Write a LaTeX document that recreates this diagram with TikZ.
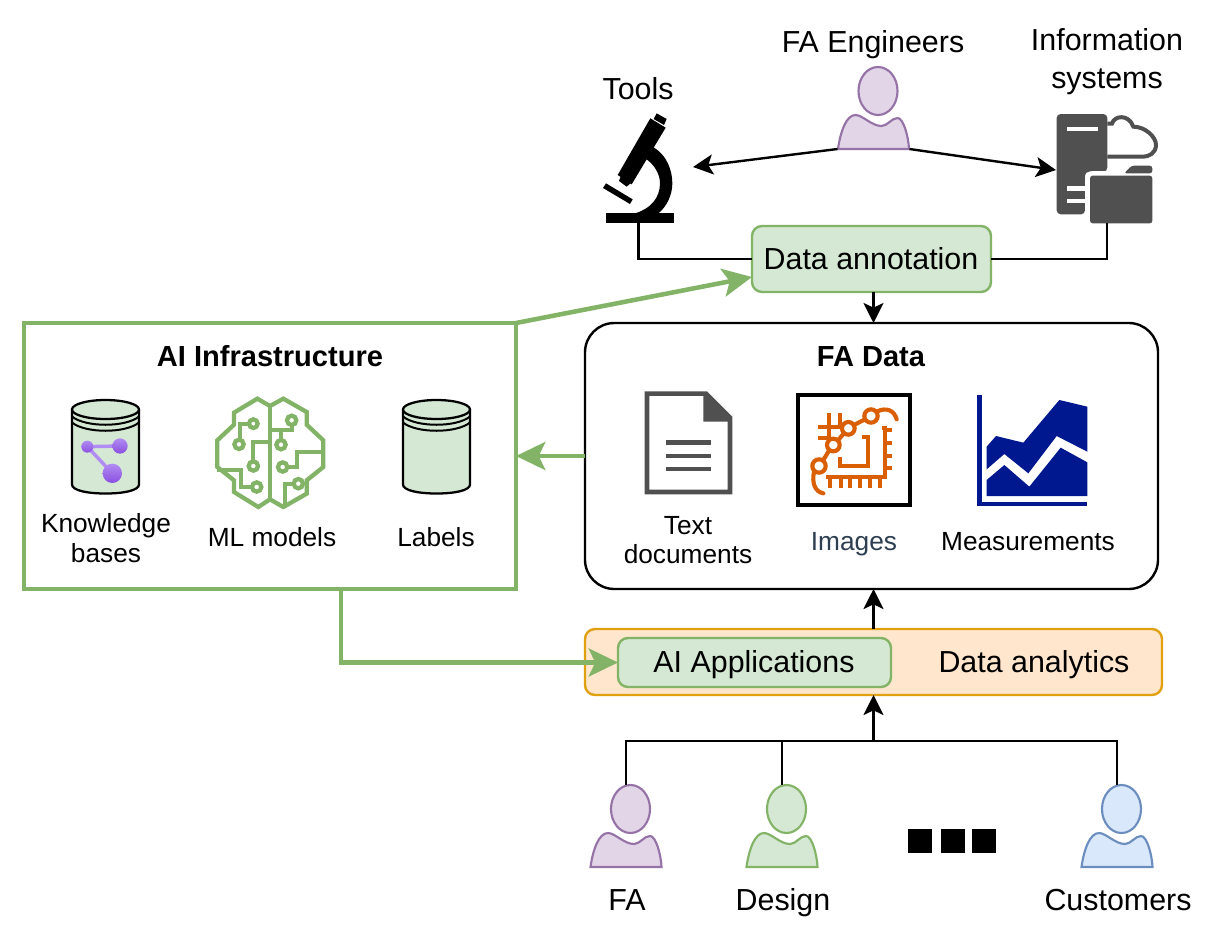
\documentclass[tikz,border=0pt]{standalone}
\usepackage{fontspec}
\setmainfont{Liberation Sans}
\usetikzlibrary{arrows.meta,calc,shadings}
\definecolor{gfill}{HTML}{D5E8D4}
\definecolor{gline}{HTML}{82B366}
\definecolor{ofill}{HTML}{FFE6CC}
\definecolor{oline}{HTML}{E0A010}
\definecolor{pfill}{HTML}{E1D5E7}
\definecolor{pline}{HTML}{9673A6}
\definecolor{bfill}{HTML}{DAE8FC}
\definecolor{bline}{HTML}{6C8EBF}
\definecolor{dgray}{HTML}{505050}
\definecolor{chipo}{HTML}{D95F02}
\definecolor{navy}{HTML}{00188F}
\definecolor{imgtxt}{HTML}{2C3E50}
\definecolor{kgl}{HTML}{B18CF2}
\definecolor{kgd}{HTML}{8A4FE0}
\tikzset{
  px/.style={x=0.75pt,y=-0.75pt},
  txt/.style={inner sep=0pt,outer sep=0pt,text height=21.1pt,text depth=5pt,font=\fontsize{22.8pt}{27pt}\selectfont},
  lbl/.style={inner sep=0pt,outer sep=0pt,text height=18.9pt,text depth=4.4pt,font=\fontsize{19.7pt}{23pt}\selectfont},
  ttl/.style={inner sep=0pt,outer sep=0pt,text height=20.5pt,text depth=4.8pt,font=\fontsize{21.8pt}{26pt}\selectfont\bfseries},
  bx/.style 2 args={rectangle,inner sep=0pt,outer sep=0pt,minimum width=#1*0.75pt,minimum height=#2*0.75pt},
  gbox/.style={draw=gline,fill=gfill,line width=1.8pt,rounded corners=7.5pt},
  blk/.style={draw=black,line width=1.8pt,-{Stealth[length=15pt,width=15pt,inset=3.5pt]}},
  bln/.style={draw=black,line width=1.8pt},
  grn/.style={draw=gline,line width=3.4pt,-{Stealth[length=22pt,width=21pt,inset=5pt]}},
  pb/.style={line width=1.6pt},
  person/.pic={
    \path[pb,pic actions] (-35.5,0) .. controls (-33,-18) and (-27,-34) .. (-18,-34)
      .. controls (-11,-34) and (-2,-23) .. (8,-23)
      .. controls (14,-23) and (18,-31) .. (24,-31)
      .. controls (30,-31) and (35,-12) .. (35.5,0) -- cycle;
    \path[pb,pic actions] (4.5,-58) ellipse [x radius=19.5,y radius=24];
  },
  jar/.pic={
    \path[fill=gfill,draw=black,line width=1.7pt] (-33.5,-37) -- (-33.5,38)
      .. controls (-33.5,44) and (-18,47) .. (0,47)
      .. controls (18,47) and (33.5,44) .. (33.5,38) -- (33.5,-37);
    \path[fill=gfill,draw=black,line width=1.7pt] (0,-37) ellipse [x radius=33.5,y radius=9.5];
    \draw[line width=1.5pt] (-33.5,-30) .. controls (-20,-19) and (20,-19) .. (33.5,-30);
    \draw[line width=1.5pt] (-33.5,-24) .. controls (-20,-13) and (20,-13) .. (33.5,-24);
  },
}
\begin{document}
\begin{tikzpicture}[px]
\useasboundingbox[fill=white] (0,0) rectangle (1214,943);

% ---- main boxes
\node[bx={239}{66},gbox] (annot) at (871.5,259) {};
\node[txt] (annottxt) at (871,259) {Data annotation};
\node[bx={573}{266},draw=black,line width=1.8pt,rounded corners=22pt] (fadata) at (871.5,456) {};
\node[ttl] (fadatat) at (871,356) {FA Data};
\node[bx={492}{266},draw=gline,line width=3.6pt] (infra) at (270,456) {};
\node[ttl] (infrat) at (270,356) {AI Infrastructure};
\node[bx={577}{66},draw=oline,fill=ofill,line width=1.8pt,rounded corners=7.5pt] (ana) at (873.5,662) {};
\node[bx={273}{49},gbox] (aiapp) at (754.5,662.5) {};
\node[txt] (aiappt) at (754,662) {AI Applications};
\node[txt] (anat) at (1034,662) {Data analytics};

% ---- icon holders
\node[bx={73}{110}] (tools) at (638.5,168) {};
\node[bx={100}{110}] (server) at (1107,168) {};
\node[bx={72}{84}] (eng) at (873.5,108) {};
\coordinate (engL) at (838,149);
\coordinate (engR) at (909,149);
\coordinate (toolsA) at (693,167);
\coordinate (serverA) at (1056,170);

% ---- text labels
\node[txt] (toolst) at (638,89) {Tools};
\node[txt] (engt) at (873,42) {FA Engineers};
\node[txt] (servt1) at (1107,40) {Information};
\node[txt] (servt2) at (1107,78) {systems};
\node[lbl] (kb1) at (106,523) {Knowledge};
\node[lbl] (kb2) at (106,553) {bases};
\node[lbl] (mlt) at (272,537) {ML models};
\node[lbl] (labt) at (436,537) {Labels};
\node[lbl] (doc1) at (688,525) {Text};
\node[lbl] (doc2) at (688,554) {documents};
\node[lbl,text=imgtxt] (imgt) at (854,541) {Images};
\node[lbl] (meast) at (1028,541) {Measurements};
\node[txt] (fat) at (627,900) {FA};
\node[txt] (dest) at (783,900) {Design};
\node[txt] (cust) at (1118,900) {Customers};

% ---- persons
\pic[fill=pfill,draw=pline] at (873.5,149) {person};
\pic[fill=pfill,draw=pline] at (626,867) {person};
\pic[fill=gfill,draw=gline] at (782,867) {person};
\pic[fill=bfill,draw=bline] at (1117,867) {person};
\node[bx={72}{82}] (pfa) at (626,826) {};
\node[bx={72}{82}] (pde) at (782,826) {};
\node[bx={72}{82}] (pcu) at (1117,826) {};
\coordinate (join) at (873.5,741);

% ---- ellipsis squares
\node[bx={24}{24},fill=black] (sq1) at (920,841) {};
\node[bx={24}{24},fill=black] (sq2) at (953,841) {};
\node[bx={24}{24},fill=black] (sq3) at (984,841) {};

% ---- connectors
\draw[blk] (eng.south west |- engL) -- (toolsA);
\draw[blk] (eng.south east |- engR) -- (serverA);
\draw[bln] (tools.south) |- (annot.west);
\draw[bln] (server.south) |- (annot.east);
\draw[blk] (ana.north |- annot.south) -- (ana.north |- fadata.north);
\draw[blk] (ana.north) -- (ana.north |- fadata.south);
\draw[grn] (infra.north east) -- ($(annot.west)+(0,18)$);
\draw[grn] (fadata.west) -- (infra.east);
\draw[grn] (341,589) |- (aiapp.west);
\draw[bln] (pfa.north) -- (626,741) -- (1117,741) -- (pcu.north);
\draw[bln] (pde.north) -- (782,741);
\draw[blk] (join) -- (ana.south);

% ---- microscope
\begin{scope}[shift={(595,105)},scale=1/3]
  \fill[black] (33,323) rectangle (237,355);
  \fill[black] (185,25) -- (215,42) -- (207,60) -- (176,42) -- cycle;
  \fill[black] (166,40) -- (212,68) -- (110,238) -- (68,210) -- cycle;
  \fill[black] (78,212) -- (110,232) -- (95,245) -- (72,228) -- cycle;
  \fill[black] (172,125) .. controls (218,150) and (232,200) .. (232,235)
     .. controls (232,270) and (215,305) .. (190,325) -- (120,325)
     .. controls (165,312) and (195,280) .. (195,235)
     .. controls (195,205) and (175,175) .. (150,160) -- cycle;
  \fill[black] (33,235) -- (113,283) -- (105,297) -- (24,249) -- cycle;
\end{scope}

% ---- server icon
\begin{scope}[shift={(1050,105)},scale=1/3]
  \fill[dgray,rounded corners=3pt] (20,27) -- (172,27) -- (172,200) -- (105,200) -- (105,328) -- (20,328) -- cycle;
  \fill[white] (50,65) rectangle (145,78);
  \fill[white] (50,243) rectangle (105,257);
  \fill[white] (50,283) rectangle (105,295);
  \draw[dgray,line width=3pt] (172,56) -- (186,56) .. controls (192,32) and (235,25) .. (250,65)
    .. controls (285,65) and (318,95) .. (318,120)
    .. controls (318,145) and (295,155) .. (280,155) -- (172,155);
  \fill[white,rounded corners=6pt] (105,198) -- (320,198) -- (320,360) -- (105,360) -- cycle;
  \fill[dgray,rounded corners=2pt] (120,212) -- (307,212) -- (307,355) -- (120,355) -- cycle;
  \fill[dgray,rounded corners=2pt] (222,205) -- (245,182) -- (307,182) -- (307,205) -- cycle;
\end{scope}
\draw[bln] (server.south) -- (1107,232);

% ---- jars
\pic at (105.5,446.5) {jar};
\pic at (436.5,446.5) {jar};
\begin{scope}[shift={(20,380)},scale=1/3]
  \draw[kgl,line width=2.6pt] (202,200) -- (300,198);
  \draw[kgl,line width=2.6pt] (202,200) -- (277,280);
  \shade[top color=kgl,bottom color=kgd] (202,200) circle (18);
  \shade[top color=kgl,bottom color=kgd] (300,198) circle (23);
  \shade[top color=kgl,bottom color=kgd] (277,280) circle (29);
\end{scope}

% ---- brain
\begin{scope}[shift={(210,392)},scale=1/3,draw=gline,line width=3.2pt,line join=miter]
  \draw (180,42) -- (142,20) -- (72,62) -- (72,98) -- (22,145) -- (22,225) -- (72,265) -- (72,300) -- (145,345) -- (180,322)
     -- (220,345) -- (290,305) -- (290,265) -- (340,225) -- (340,145) -- (290,98) -- (290,60) -- (220,20) -- cycle;
  \draw (180,42) -- (180,322);
  \draw (130,95) circle (13);
  \draw (117,95) -- (90,95) -- (90,143);
  \draw (87,157) circle (14);
  \draw (130,222) circle (14);
  \draw (130,208) -- (130,150) -- (180,150);
  \draw (140,285) circle (14);
  \draw (126,285) -- (93,285) -- (93,235) -- (22,235);
  \draw (245,85) circle (14);
  \draw (245,99) -- (245,115) -- (180,115);
  \draw (213,115) -- (213,144);
  \draw (213,158) circle (14);
  \draw (218,225) circle (14);
  \draw (232,225) -- (262,225) -- (262,180) -- (340,180);
  \draw (265,275) circle (14);
  \draw (252,277) -- (225,277) -- (225,340);
\end{scope}

% ---- document icon
\begin{scope}[shift={(620,380)},scale=1/3]
  \draw[dgray,line width=3.4pt,line join=miter] (81,41) -- (258,41) -- (330,113) -- (330,336) -- (81,336) -- cycle;
  \fill[dgray] (250,38) -- (335,125) -- (250,125) -- cycle;
  \foreach \yy in {188,228,267} \draw[dgray,line width=3.6pt] (138,\yy) -- (273,\yy);
\end{scope}

% ---- chip image
\node[bx={112}{110},draw=black,line width=2.8pt] (imgbox) at (854,450) {};
\begin{scope}[shift={(795,390)},scale=1/3,draw=chipo,line width=3.1pt]
  \draw (72,228) circle (20);
  \draw (115,165) circle (19);
  \draw (160,115) circle (19);
  \draw (228,78) circle (20);
  \draw (84,212) -- (103,180);
  \draw (128,152) -- (147,130);
  \draw (177,105) -- (210,88);
  \draw[line cap=round] (245,65) .. controls (275,50) and (298,62) .. (305,88);
  \draw[line cap=round] (57,245) .. controls (50,280) and (60,305) .. (85,310);
  \draw (200,140) -- (220,140) -- (220,228) -- (135,228) -- (135,200);
  \draw (262,115) -- (270,115) -- (270,262) -- (98,262) -- (98,254);
  \foreach \yy in {120,160,197,235} \draw (270,\yy) -- (290,\yy);
  \foreach \xx in {105,137,165,195,225,255} \draw (\xx,262) -- (\xx,295);
  \draw (103,70) -- (103,148);
  \draw (135,70) -- (135,105);
  \draw (70,110) -- (145,110);
  \draw (70,145) -- (95,145);
\end{scope}

% ---- chart
\begin{scope}[shift={(620,380)},scale=1/3]
  \draw[navy,line width=3.4pt] (1078,45) -- (1078,372) -- (1402,372);
  \fill[navy] (1100,200) -- (1128,168) -- (1210,188) -- (1318,60) -- (1402,80) -- (1402,215) -- (1310,168) -- (1225,280) -- (1153,222) -- (1100,268) -- cycle;
  \fill[navy] (1100,300) -- (1153,255) -- (1228,320) -- (1322,203) -- (1402,247) -- (1402,348) -- (1100,348) -- cycle;
\end{scope}
\end{tikzpicture}
\end{document}
